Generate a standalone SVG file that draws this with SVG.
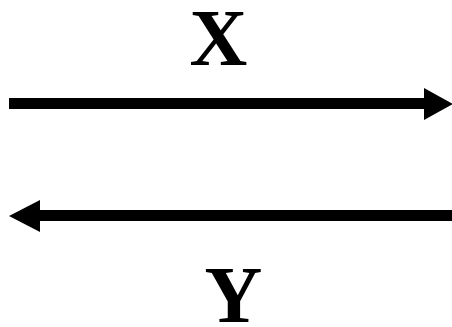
<svg xmlns="http://www.w3.org/2000/svg" width="452" height="327" viewBox="0 0 452 327">
<style>
.lbl{font-family:"Liberation Serif","Times New Roman",serif;font-weight:bold;font-size:80px;fill:#000;text-anchor:middle}
.ln{stroke:#000;stroke-width:11;fill:none}
.hd{fill:#000}
</style>
<rect width="452" height="327" fill="#fff"/>
<g id="connectors">
<g id="arrow-x">
<line class="ln" x1="9" y1="103.5" x2="428" y2="103.5"/>
<polygon class="hd" points="424,88 453,104 424,120"/>
</g>
<g id="arrow-y">
<line class="ln" x1="452" y1="215.5" x2="36" y2="215.5"/>
<polygon class="hd" points="40,200 9,216 40,232"/>
</g>
</g>
<g id="label-x"><text class="lbl" x="218.5" y="65">X</text></g>
<g id="label-y"><text class="lbl" x="233.5" y="322">Y</text></g>
</svg>
